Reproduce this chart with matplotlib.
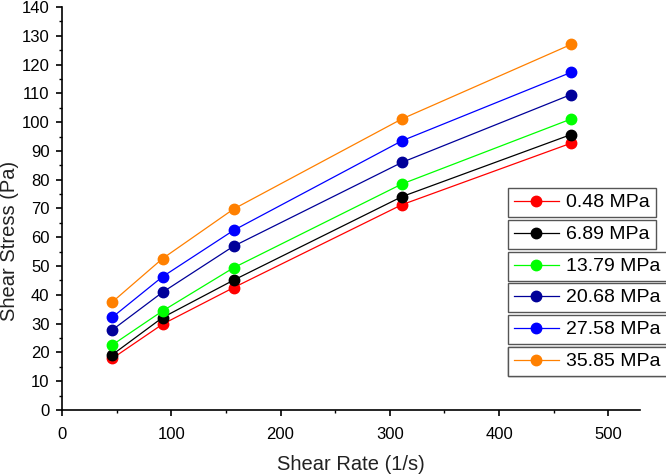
import matplotlib
matplotlib.use('Agg')
import matplotlib.pyplot as plt
from matplotlib.lines import Line2D
from matplotlib.ticker import MultipleLocator

# shear rate (1/s)
shear_rate = [46, 92, 157, 311, 466]

# shear stress (Pa) for each pressure
labels = ['0.48 MPa', '6.89 MPa', '13.79 MPa', '20.68 MPa', '27.58 MPa', '35.85 MPa']
stress_048 = [17.9, 29.8, 42.5, 71.3, 92.7]
stress_689 = [19.2, 32.1, 45.1, 74.1, 95.7]
stress_1379 = [22.6, 34.4, 49.4, 78.5, 101.1]
stress_2068 = [27.8, 40.9, 56.9, 86.0, 109.6]
stress_2758 = [32.2, 46.3, 62.4, 93.5, 117.3]
stress_3585 = [37.5, 52.6, 69.8, 101.1, 127.0]
colors = ['#ff0000', '#000000', '#00ff00', '#000099', '#0000ff', '#ff8000']

all_stress = [stress_048, stress_689, stress_1379, stress_2068, stress_2758, stress_3585]

plt.rcParams['font.family'] = ['Liberation Sans', 'DejaVu Sans']

fig = plt.figure(figsize=(6.66, 4.74), dpi=100)
ax = fig.add_axes([62 / 666, 64 / 474, 578 / 666, 403 / 474])

for ys, c in zip(all_stress, colors):
    ax.plot(shear_rate, ys, color=c, lw=0.9, marker='o', ms=7.5,
            markeredgecolor=c)

ax.set_xlim(0, 529)
ax.set_ylim(0, 140)
ax.xaxis.set_major_locator(MultipleLocator(100))
ax.xaxis.set_minor_locator(MultipleLocator(50))
ax.yaxis.set_major_locator(MultipleLocator(10))
ax.yaxis.set_minor_locator(MultipleLocator(5))
ax.spines['top'].set_visible(False)
ax.spines['right'].set_visible(False)
for s in ('left', 'bottom'):
    ax.spines[s].set_linewidth(1.2)
ax.tick_params(which='major', direction='out', length=4, width=1.2, labelsize=12)
ax.tick_params(which='minor', direction='out', length=2.5, width=1.0)
ax.tick_params(axis='x', which='major', pad=8)
ax.tick_params(axis='y', which='major', pad=5)

ax.set_xlabel('Shear Rate (1/s)', fontsize=14.5, color='#222222', va='center')
ax.set_ylabel('Shear Stress (Pa)', fontsize=14.5, color='#222222', va='center')
ax.xaxis.set_label_coords(0.5, -0.134)
ax.yaxis.set_label_coords(-0.09, 0.42)

# each legend entry sits in its own box
box_tops = [188, 220, 252, 283, 315, 347]
for lab, c, top in zip(labels, colors, box_tops):
    h = Line2D([], [], color=c, lw=0.9, marker='o', ms=7.5, markeredgecolor=c)
    leg = ax.legend([h], [lab], loc='upper left',
                    bbox_to_anchor=(508 / 666, 1 - top / 474),
                    bbox_transform=fig.transFigure, borderaxespad=0,
                    fontsize=14, frameon=True, fancybox=False,
                    edgecolor='#555555', framealpha=1, borderpad=0.3,
                    handlelength=2.3, handletextpad=0.4)
    leg.get_frame().set_linewidth(1.0)
    ax.add_artist(leg)

fig.savefig('out.png', dpi=100)
